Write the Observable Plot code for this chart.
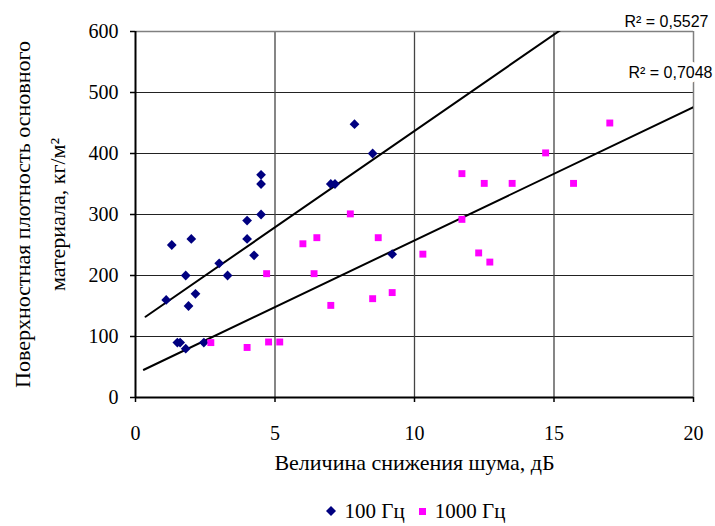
<!DOCTYPE html>
<html><head><meta charset="utf-8">
<script src="https://cdn.jsdelivr.net/npm/d3@7"></script>
<script src="https://cdn.jsdelivr.net/npm/@observablehq/plot@0.6"></script>
<style>
body{margin:0;background:#fff;}
#legend{font-family:"Liberation Serif",serif;font-size:21px;color:#000;display:flex;justify-content:center;align-items:center;gap:14px;padding-left:116px;margin-top:9px;line-height:24px;}
#legend span{display:inline-flex;align-items:center;gap:9px;}
</style>
</head><body>
<div id="chart"></div>
<script>
// Series "100 Гц"
const x100 = [1.1, 1.3, 1.5, 1.6, 1.8, 1.8, 1.9, 2.0, 2.15, 2.45, 3.0, 3.3, 4.0, 4.0, 4.25, 4.5, 4.5, 4.5, 7.0, 7.15, 7.85, 8.5, 9.2];
const y100 = [160, 250, 90, 90, 200, 80, 150, 260, 170, 90, 220, 200, 290, 260, 233, 365, 350, 300, 350, 350, 448, 400, 235];
// Series "1000 Гц"
const x1000 = [2.7, 4.0, 4.7, 4.77, 5.17, 6.0, 6.4, 6.5, 7.0, 7.7, 8.5, 8.7, 9.2, 10.3, 11.7, 11.7, 12.3, 12.5, 12.7, 13.5, 14.7, 15.7, 17.0];
const y1000 = [90, 82, 203, 91, 91, 252, 203, 262, 151, 301, 162, 262, 172, 235, 367, 292, 237, 351, 222, 351, 401, 351, 450];
// Trend lines (linear): slope, intercept, start x, end x
const seriesNames = ["100 Гц", "1000 Гц"];
const trendSlope = [31.6, 21.86];
const trendIntercept = [121, 38.9];
const trendStart = [0.36, 0.3];
const trendEnd = [20, 20];
const r2Labels = ["R² = 0,5527", "R² = 0,7048"];
const xTicks = [0, 5, 10, 15, 20];
const yTicks = [0, 100, 200, 300, 400, 500, 600];
const xTitle = "Величина снижения шума, дБ";
const yTitle1 = "Поверхностная плотность основного";
const yTitle2 = "материала, кг/м²";

const pts100 = x100.map((x, i) => ({x, y: y100[i]}));
const pts1000 = x1000.map((x, i) => ({x, y: y1000[i]}));
const trends = seriesNames.map((s, i) => [trendStart[i], trendEnd[i]].map(x => ({s, x, y: trendIntercept[i] + trendSlope[i] * x}))).flat();

const chart = Plot.plot({
  width: 715,
  height: 490,
  marginLeft: 135,
  marginRight: 22,
  marginTop: 31,
  marginBottom: 93,
  style: {fontFamily: "Liberation Serif, serif", fontSize: "20px", color: "#000", background: "#fff"},
  x: {domain: [0, 20], label: null},
  y: {domain: [0, 600], label: null},
  marks: [
    Plot.ruleY(yTicks.filter(v => v > 0 && v < 600), {stroke: "#222", strokeWidth: 1}),
    Plot.ruleX(xTicks.filter(v => v > 0 && v < 20), {stroke: "#444", strokeWidth: 1.3}),
    Plot.ruleY([600], {stroke: "#808080", strokeWidth: 1.5}),
    Plot.ruleX([20], {stroke: "#808080", strokeWidth: 1.5}),
    Plot.line(trends, {x: "x", y: "y", z: "s", stroke: "#000", strokeWidth: 2, clip: true}),
    Plot.dot(pts100, {x: "x", y: "y", symbol: "diamond2", r: 4.4, fill: "#000080", stroke: "none"}),
    Plot.dot(pts1000, {x: "x", y: "y", symbol: "square", r: 3.9, fill: "#FF00FF", stroke: "none"}),
    Plot.ruleX([0], {stroke: "#000", strokeWidth: 2}),
    Plot.ruleY([0], {stroke: "#000", strokeWidth: 2}),
    Plot.axisX({ticks: xTicks, tickSize: 5, tickPadding: 23, strokeWidth: 1.5, label: null, fontSize: 20}),
    Plot.axisY({ticks: yTicks, tickSize: 5, tickPadding: 12, strokeWidth: 1.5, label: null, fontSize: 20}),
    Plot.text([r2Labels[0]], {text: d => d, frameAnchor: "top-right", dx: 15, dy: -16, textAnchor: "end", fontFamily: "Liberation Sans, sans-serif", fontSize: 16, fill: "#000"}),
    Plot.text([r2Labels[1]], {text: d => d, frameAnchor: "top-right", dx: 19, dy: 35, textAnchor: "end", fontFamily: "Liberation Sans, sans-serif", fontSize: 16, fill: "#000", stroke: "#fff", strokeWidth: 9, paintOrder: "stroke"}),
    Plot.text([xTitle], {text: d => d, frameAnchor: "bottom", textAnchor: "middle", dy: 72, fontSize: 22}),
    Plot.text([yTitle1], {text: d => d, frameAnchor: "left", textAnchor: "middle", dx: -113, rotate: -90, fontSize: 22}),
    Plot.text([yTitle2], {text: d => d, frameAnchor: "left", textAnchor: "middle", dx: -78, rotate: -90, fontSize: 22})
  ]
});
document.getElementById("chart").appendChild(chart);

const legend = document.createElement("div");
legend.id = "legend";
const shapes = [
  '<svg width="10" height="10"><path d="M5,0L10,5L5,10L0,5Z" fill="#000080"/></svg>',
  '<svg width="7" height="7"><rect width="7" height="7" fill="#FF00FF"/></svg>'
];
seriesNames.forEach((s, i) => {
  const item = document.createElement("span");
  item.innerHTML = shapes[i] + "<span>" + s + "</span>";
  legend.appendChild(item);
});
document.body.appendChild(legend);
</script>
</body></html>
